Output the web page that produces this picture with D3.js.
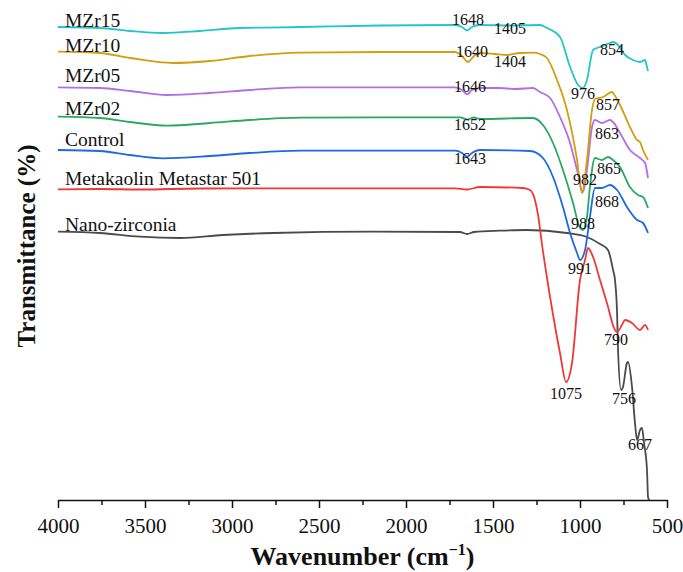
<!DOCTYPE html>
<html>
<head>
<meta charset="utf-8">
<script src="https://cdn.jsdelivr.net/npm/d3@7"></script>
<style>
  html, body { margin: 0; padding: 0; background: #fff; }
  svg { display: block; }
  text { font-family: "Liberation Serif", "Times New Roman", serif; fill: #111; }
</style>
</head>
<body>
<svg id="chart" width="683" height="572"></svg>
<script>
// ---- Data (wavenumber cm^-1, offset transmittance in arbitrary %) ----
const xTicks = [4000, 3500, 3000, 2500, 2000, 1500, 1000, 500];
const xMinorTicks = [3750, 3250, 2750, 2250, 1750, 1250, 750];

const seriesNames = ["MZr15", "MZr10", "MZr05", "MZr02", "Control", "Metakaolin Metastar 501", "Nano-zirconia"];
const seriesColors = ["#22c6c6", "#d29f10", "#b26ee4", "#2aa863", "#1d69e4", "#ef3838", "#4a4a4a"];

const mzr15 = [[4000,94.6],[3759,94.4],[3586,93.8],[3397,93.4],[3184,93.8],[2954,94.4],[2609,94.6],[2149,94.9],[1718,95],[1678,94.6],[1649,93.9],[1621,94.6],[1575,95],[1402,94.9],[1230,95],[1190,94.4],[1115,92.6],[1057,86.6],[1011,83],[983,82.4],[960,84],[925,90],[885,90.6],[828,91.4],[810,91.6],[782,91],[741,89],[695,88],[655,87.6],[626,88],[615,86.6],[609,85.8]];
const mzr10 = [[4000,89.66],[3759,89.4],[3586,88.4],[3339,87.4],[3126,87.8],[2897,88.8],[2609,89.46],[2149,89.6],[1718,89.6],[1678,88.8],[1644,87.6],[1609,88.8],[1575,89.4],[1489,89.2],[1420,89],[1345,89.4],[1270,89.46],[1230,89.2],[1190,88.4],[1132,84],[1075,78],[1017,68],[989,61.4],[960,68],[931,78],[914,80.2],[868,80.6],[816,81.6],[810,81.4],[770,79],[713,74.6],[672,72],[655,71.6],[638,70],[609,68]];
const mzr05 = [[4000,82.54],[3759,82.4],[3586,81.8],[3374,81],[3126,81.4],[2897,82],[2609,82.54],[2149,82.54],[1718,82.54],[1678,82],[1649,81.14],[1621,82],[1575,82.4],[1460,82.4],[1374,82.2],[1270,82.4],[1230,81.6],[1172,80.4],[1115,76.6],[1057,71.4],[1017,66],[983,61.6],[960,66],[931,74.6],[914,76],[874,75.4],[828,76],[810,75.6],[770,73.4],[713,70],[655,68.4],[626,67.4],[609,64.4]];
const mzr02 = [[4000,76.66],[3759,76.4],[3586,75.6],[3374,74.86],[3126,75.4],[2897,76],[2609,76.46],[2149,76.54],[1718,76.54],[1690,76.54],[1649,76.1],[1609,76.5],[1575,76.2],[1270,76.4],[1213,75],[1155,71.4],[1098,66],[1040,59.4],[1000,54.4],[983,54],[960,56.6],[943,62.6],[914,68.4],[874,68],[839,68.6],[810,68],[770,66.6],[713,62.6],[667,61],[638,60.6],[609,58.4]];
const control = [[4000,70],[3759,69.8],[3586,69],[3397,68.34],[3126,68.8],[2897,69.4],[2609,69.86],[2149,69.86],[1718,69.86],[1678,69.4],[1649,68.66],[1621,69.4],[1575,70],[1287,69.8],[1213,68.4],[1155,64.6],[1098,58.6],[1057,53.4],[1017,49.4],[1000,48],[971,50],[943,56.6],[914,62.4],[874,62.4],[828,63],[787,62],[730,58.6],[672,56],[638,55.4],[609,53.4]];
const metakaolin = [[4000,62.14],[3759,62.2],[3529,62.1],[3184,62.3],[2609,62.34],[2149,62.34],[1718,62.34],[1649,62.1],[1575,62.6],[1328,62.4],[1287,62],[1259,60],[1241,57],[1218,51],[1172,40.6],[1115,29.4],[1080,23.6],[1046,27.4],[1000,44],[971,48],[954,50.4],[925,48.6],[885,44],[845,39.4],[799,34],[787,33.6],[759,35],[741,36],[701,35.4],[655,34],[626,35],[609,34]];
const nanoZirconia = [[4000,53.66],[3759,53.4],[3529,52.66],[3299,52.4],[3052,53],[2764,53.4],[2190,53.66],[1690,53.6],[1649,53.2],[1609,53.6],[1460,53.86],[1305,54],[1075,53.4],[960,52.6],[885,51.2],[839,50],[810,46],[799,44],[787,37.4],[782,30.6],[764,22],[753,22.6],[730,27.4],[724,27.6],[701,22.6],[684,15.4],[672,12],[655,14],[644,14.4],[632,11.4],[615,6],[609,0.6],[603,0]];

const seriesData = [mzr15, mzr10, mzr05, mzr02, control, metakaolin, nanoZirconia];

// series label anchors (wavenumber, value) at left
const labelPos = [[3960, 94.7], [3960, 89.7], [3960, 83.7], [3960, 77.0], [3960, 70.9], [3960, 63.0], [3960, 53.8]];

// peak annotations: text, wavenumber, value (label baseline)
const peakText = ["1648","1405","1640","1404","1646","1652","1643","976","854","857","863","982","865","868","988","991","790","1075","756","667"];
const peakWn   = [1644, 1402, 1621, 1402, 1632, 1632, 1632, 983, 816, 839, 845, 971, 833, 845, 983, 1000, 793, 1080, 747, 655];
const peakVal  = [95.0, 93.3, 88.7, 86.7, 81.7, 74.1, 67.3, 80.3, 89.0, 78.1, 72.3, 63.0, 65.3, 58.7, 54.3, 45.3, 31.0, 20.3, 19.3, 10.0];

// ---- Drawing ----
const svg = d3.select("#chart");
const W = 683, H = 572;
svg.append("rect").attr("width", W).attr("height", H).attr("fill", "#fff");

const x = d3.scaleLinear().domain([4000, 500]).range([58, 667]);
const y = d3.scaleLinear().domain([0, 100]).range([500, 0]);

const line = d3.line()
  .x(d => x(d[0]))
  .y(d => y(d[1]))
  .curve(d3.curveMonotoneX);

// draw bottom-up so that upper curves overlay
const order = [6, 5, 4, 3, 2, 1, 0];
order.forEach(i => {
  svg.append("path")
    .datum(seriesData[i])
    .attr("fill", "none")
    .attr("stroke", seriesColors[i])
    .attr("stroke-width", 1.8)
    .attr("stroke-linejoin", "round")
    .attr("d", line);
});

// series labels
seriesNames.forEach((name, i) => {
  svg.append("text")
    .attr("x", x(labelPos[i][0]))
    .attr("y", y(labelPos[i][1]))
    .attr("font-size", 19.5)
    .text(name);
});

// peak labels
peakText.forEach((t, i) => {
  svg.append("text")
    .attr("x", x(peakWn[i]))
    .attr("y", y(peakVal[i]))
    .attr("font-size", 16)
    .attr("text-anchor", "middle")
    .text(t);
});

// x axis
const axisG = svg.append("g").attr("transform", `translate(0,${y(0)})`);
const axis = d3.axisBottom(x).tickValues(xTicks).tickSize(8).tickSizeOuter(0).tickPadding(10).tickFormat(d3.format("d"));
axisG.call(axis);
axisG.select(".domain").attr("stroke", "#111").attr("stroke-width", 1.5);
axisG.selectAll(".tick line").attr("stroke", "#111").attr("stroke-width", 1.5);
axisG.selectAll(".tick text").attr("font-size", 21).attr("font-family", "Liberation Serif, serif").attr("fill", "#111");

const minor = d3.axisBottom(x).tickValues(xMinorTicks).tickSize(5).tickFormat("");
const minorG = svg.append("g").attr("transform", `translate(0,${y(0)})`).call(minor);
minorG.select(".domain").remove();
minorG.selectAll(".tick line").attr("stroke", "#111").attr("stroke-width", 1.5);

// axis titles
const xt = svg.append("text")
  .attr("x", (x(4000) + x(500)) / 2)
  .attr("y", 565)
  .attr("text-anchor", "middle")
  .attr("font-size", 26)
  .attr("font-weight", "bold");
xt.append("tspan").text("Wavenumber (cm");
xt.append("tspan").attr("font-size", 16).attr("dy", -10).text("\u22121");
xt.append("tspan").attr("dy", 10).text(")");

svg.append("text")
  .attr("transform", `translate(35,${246}) rotate(-90)`)
  .attr("text-anchor", "middle")
  .attr("font-size", 25)
  .attr("font-weight", "bold")
  .text("Transmittance (%)");
</script>
</body>
</html>
